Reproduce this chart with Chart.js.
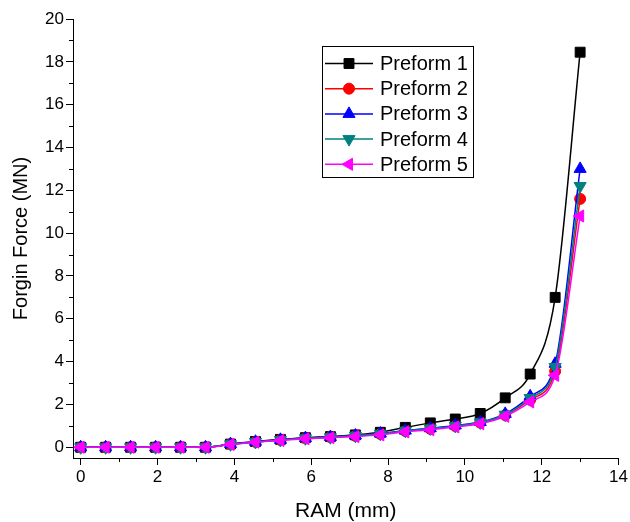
<!DOCTYPE html>
<html>
<head>
<meta charset="utf-8">
<script src="https://cdn.jsdelivr.net/npm/chart.js@4/dist/chart.umd.min.js"></script>
<style>
  html, body { margin: 0; padding: 0; background: #fff; }
  #wrap { width: 630px; height: 522px; position: relative; }
</style>
</head>
<body>
<div id="wrap"><canvas id="c" width="630" height="522"></canvas></div>
<script>
// ---- data ----
const ramMM = [0, 0.65, 1.3, 1.95, 2.6, 3.25, 3.9, 4.55, 5.2, 5.85, 6.5, 7.15, 7.8, 8.45, 9.1, 9.75, 10.4, 11.05, 11.7, 12.35, 13.0];
const preform1 = [0, 0, 0, 0, 0, 0, 0.15, 0.27, 0.37, 0.45, 0.50, 0.58, 0.70, 0.93, 1.14, 1.32, 1.58, 2.31, 3.42, 7.0, 18.45];
const preform2 = [0, 0, 0, 0, 0, 0, 0.14, 0.25, 0.34, 0.42, 0.47, 0.53, 0.62, 0.76, 0.86, 0.99, 1.15, 1.50, 2.22, 3.55, 11.6];
const preform3 = [0, 0, 0, 0, 0, 0, 0.15, 0.26, 0.35, 0.43, 0.48, 0.55, 0.64, 0.78, 0.89, 1.02, 1.18, 1.56, 2.38, 3.90, 13.0];
const preform4 = [0, 0, 0, 0, 0, 0, 0.14, 0.25, 0.34, 0.42, 0.47, 0.54, 0.63, 0.77, 0.88, 1.00, 1.16, 1.52, 2.30, 3.75, 12.2];
const preform5 = [0, 0, 0, 0, 0, 0, 0.13, 0.24, 0.32, 0.40, 0.45, 0.50, 0.58, 0.72, 0.82, 0.95, 1.10, 1.45, 2.12, 3.36, 10.8];
const seriesNames = ['Preform 1', 'Preform 2', 'Preform 3', 'Preform 4', 'Preform 5'];
const xMajorTicks = [0, 2, 4, 6, 8, 10, 12, 14];
const xMinorTicks = [1, 3, 5, 7, 9, 11, 13];
const yMajorTicks = [0, 2, 4, 6, 8, 10, 12, 14, 16, 18, 20];
const yMinorTicks = [1, 3, 5, 7, 9, 11, 13, 15, 17, 19];
const xTitle = 'RAM (mm)';
const yTitle = 'Forgin Force (MN)';

// ---- styles ----
const FONT = "'Liberation Sans', Arial, sans-serif";
const styles = [
  { color: '#000000', pointStyle: 'rect', radius: 7, rotation: 0 },
  { color: '#ff0000', pointStyle: 'circle', radius: 5.5, rotation: 0 },
  { color: '#0000ff', pointStyle: 'triangle', radius: 7, rotation: 0 },
  { color: '#008080', pointStyle: 'triangle', radius: 7, rotation: 180 },
  { color: '#ff00ff', pointStyle: 'triangle', radius: 7, rotation: 270 }
];
const allSeries = [preform1, preform2, preform3, preform4, preform5];

const datasets = allSeries.map((vals, i) => ({
  label: seriesNames[i],
  data: vals.map((v, k) => ({ x: ramMM[k], y: v })),
  borderColor: styles[i].color,
  backgroundColor: styles[i].color,
  pointBackgroundColor: styles[i].color,
  pointBorderColor: styles[i].color,
  pointStyle: styles[i].pointStyle,
  pointRadius: styles[i].radius,
  pointRotation: styles[i].rotation,
  pointBorderWidth: 1,
  borderWidth: 1.5,
  cubicInterpolationMode: 'monotone',
  fill: false,
  order: 4 - i
}));

function drawMarker(ctx, st, x, y) {
  ctx.save();
  ctx.fillStyle = st.color;
  ctx.strokeStyle = st.color;
  ctx.lineWidth = 1;
  if (Chart.helpers && Chart.helpers.drawPoint) {
    Chart.helpers.drawPoint(ctx, { pointStyle: st.pointStyle, radius: st.radius, rotation: st.rotation, borderWidth: 1 }, x, y);
  }
  ctx.restore();
}

const minorTicksPlugin = {
  id: 'minorTicks',
  afterDraw(chart) {
    const ctx = chart.ctx;
    const xs = chart.scales.x, ys = chart.scales.y;
    const ca = chart.chartArea;
    ctx.save();
    ctx.strokeStyle = '#000';
    ctx.lineWidth = 1;
    ctx.beginPath();
    xMinorTicks.forEach(v => {
      const px = Math.round(xs.getPixelForValue(v)) + 0.5;
      ctx.moveTo(px, ca.bottom);
      ctx.lineTo(px, ca.bottom + 4);
    });
    yMinorTicks.forEach(v => {
      const py = Math.round(ys.getPixelForValue(v)) + 0.5;
      ctx.moveTo(ca.left, py);
      ctx.lineTo(ca.left - 4, py);
    });
    ctx.stroke();
    ctx.restore();
  }
};

const legendBox = { x: 322.5, y: 46.5, w: 151, h: 131, rowY0: 63.5, rowStep: 25.2, lineX0: 325, lineX1: 373, textX: 380, fontSize: 20 };
const legendPlugin = {
  id: 'customLegend',
  afterDraw(chart) {
    const ctx = chart.ctx;
    const b = legendBox;
    ctx.save();
    ctx.fillStyle = '#fff';
    ctx.fillRect(b.x, b.y, b.w, b.h);
    ctx.strokeStyle = '#000';
    ctx.lineWidth = 1;
    ctx.strokeRect(b.x, b.y, b.w, b.h);
    chart.data.datasets.forEach((ds, i) => {
      const st = styles[i];
      const y = b.rowY0 + i * b.rowStep;
      ctx.strokeStyle = st.color;
      ctx.lineWidth = 1.5;
      ctx.beginPath();
      ctx.moveTo(b.lineX0, y);
      ctx.lineTo(b.lineX1, y);
      ctx.stroke();
      drawMarker(ctx, st, (b.lineX0 + b.lineX1) / 2, y);
      ctx.fillStyle = '#000';
      ctx.font = b.fontSize + 'px ' + FONT;
      ctx.textBaseline = 'middle';
      ctx.textAlign = 'left';
      ctx.fillText(ds.label, b.textX, y + 1);
    });
    ctx.restore();
  }
};

new Chart(document.getElementById('c'), {
  type: 'line',
  data: { datasets },
  plugins: [minorTicksPlugin, legendPlugin],
  options: {
    responsive: false,
    animation: false,
    events: [],
    layout: { padding: { left: 0, top: 19, right: 11, bottom: 0 } },
    plugins: { legend: { display: false }, tooltip: { enabled: false } },
    scales: {
      x: {
        type: 'linear',
        min: -0.2,
        max: 14,
        afterBuildTicks: s => { s.ticks = xMajorTicks.map(v => ({ value: v })); },
        afterFit: s => { s.height = 64; },
        grid: { display: true, drawOnChartArea: false, drawTicks: true, tickLength: 7, color: '#000', lineWidth: 1 },
        border: { display: true, color: '#000', width: 1 },
        ticks: { color: '#000', font: { family: FONT, size: 17 }, padding: 2, maxRotation: 0, autoSkip: false },
        title: { display: true, text: xTitle, color: '#000', font: { family: FONT, size: 21 }, padding: { top: 0, bottom: -2 } }
      },
      y: {
        type: 'linear',
        min: -0.5,
        max: 20,
        afterBuildTicks: s => { s.ticks = yMajorTicks.map(v => ({ value: v })); },
        afterFit: s => { s.width = 73; },
        grid: { display: true, drawOnChartArea: false, drawTicks: true, tickLength: 7, color: '#000', lineWidth: 1 },
        border: { display: true, color: '#000', width: 1 },
        ticks: { color: '#000', font: { family: FONT, size: 17 }, padding: 2, autoSkip: false },
        title: { display: true, text: yTitle, color: '#000', font: { family: FONT, size: 20 }, padding: { top: 9, bottom: 0 } }
      }
    }
  }
});
</script>
</body>
</html>
